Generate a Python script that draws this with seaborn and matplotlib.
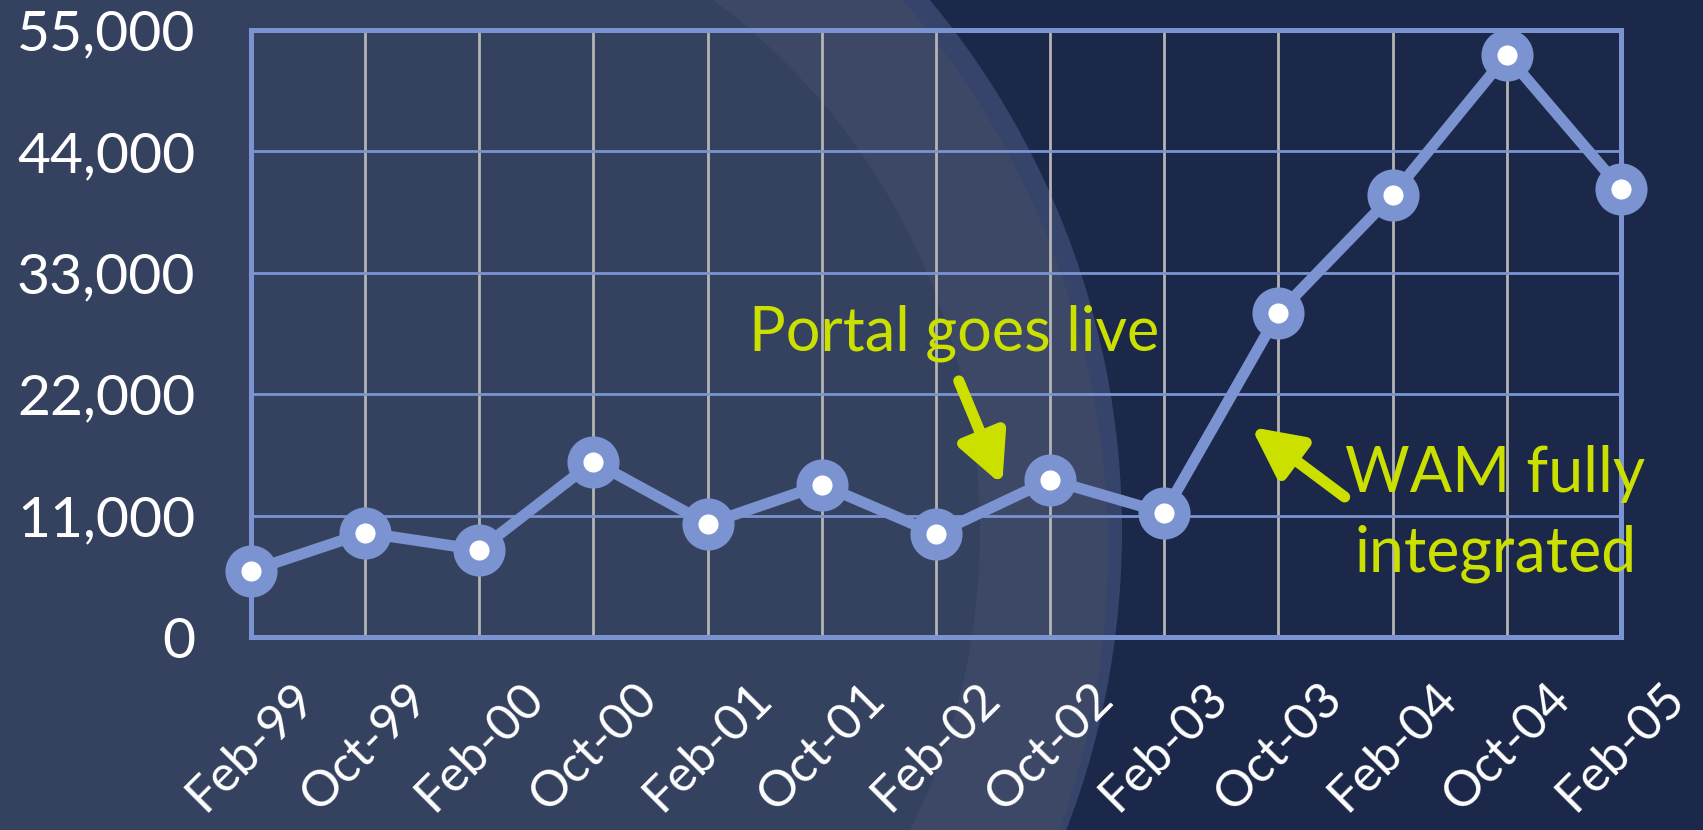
import matplotlib
matplotlib.use('Agg')
import matplotlib.pyplot as plt
from matplotlib.patches import Circle
import pandas as pd
import seaborn as sns

# values
months = ['Feb-99', 'Oct-99', 'Feb-00', 'Oct-00', 'Feb-01', 'Oct-01', 'Feb-02',
          'Oct-02', 'Feb-03', 'Oct-03', 'Feb-04', 'Oct-04', 'Feb-05']
users = [6000, 9450, 7900, 15900, 10250, 13800, 9350,
         14250, 11250, 29350, 40050, 52700, 40600]
y_ticks = [0, 11000, 22000, 33000, 44000, 55000]

blue = '#7b93d0'
yellow = '#cce000'

sns.set_theme(style='white')
plt.rcParams['font.family'] = ['Lato', 'DejaVu Sans']

fig = plt.figure(figsize=(17.03, 8.30), dpi=100)
fig.patch.set_facecolor('#1c2849')

# slide background: dark navy with a large lighter disc and a glow ring
bg = fig.add_axes([0, 0, 1, 1], zorder=0)
bg.set_xlim(0, 1703)
bg.set_ylim(830, 0)
bg.axis('off')
for cx, cy, r, c in [(292, 531, 830, '#36436a'),
                     (269, 550, 839, '#3d4866'),
                     (314, 533, 666, '#35425f')]:
    bg.add_patch(Circle((cx, cy), r, color=c, lw=0))

ax = fig.add_axes([0.1474, 0.2325, 0.8044, 0.7314], zorder=1)
ax.patch.set_alpha(0)

df = pd.DataFrame({'month': months, 'users': users})
sns.lineplot(data=df, x='month', y='users', sort=False, ax=ax,
             color=blue, linewidth=8, marker='o', markersize=26,
             markeredgewidth=11.5, markerfacecolor='white',
             markeredgecolor=blue, clip_on=False, zorder=5)

ax.set_xlim(0, len(months) - 1)
ax.set_ylim(0, 55000)
ax.set_yticks(y_ticks)
ax.set_yticklabels([f'{v:,}' for v in y_ticks])
ax.set_xticks(range(len(months)))
ax.set_xticklabels(months, rotation=45, ha='center')
ax.set_xlabel('')
ax.set_ylabel('')

ax.set_axisbelow(True)
ax.xaxis.grid(True, color='#b4b4b4', linewidth=2)
ax.yaxis.grid(True, color=blue, linewidth=2)
for s in ax.spines.values():
    s.set_color(blue)
    s.set_linewidth(3.6)

ax.tick_params(axis='y', length=0, pad=40, labelsize=41, labelcolor='white')
ax.tick_params(axis='x', length=0, pad=27, labelsize=36, labelcolor='white')

# annotations
ax.text(4.36, 26000, 'Portal goes live', color=yellow, fontsize=44,
        ha='left', va='baseline')
ax.annotate('', xy=(6.58, 13770), xytext=(6.20, 23200),
            arrowprops=dict(arrowstyle='-|>,head_length=0.8,head_width=0.4',
                            mutation_scale=37, color=yellow, lw=8,
                            shrinkA=0, shrinkB=0))

ax.text(10.90, 13140, 'WAM fully', color=yellow, fontsize=45,
        ha='center', va='baseline')
ax.text(10.90, 5900, 'integrated', color=yellow, fontsize=45,
        ha='center', va='baseline')
ax.annotate('', xy=(8.76, 19030), xytext=(9.58, 12690),
            arrowprops=dict(arrowstyle='-|>,head_length=0.8,head_width=0.4',
                            mutation_scale=37, color=yellow, lw=8,
                            shrinkA=0, shrinkB=0))

fig.savefig('out.png', dpi=100, facecolor=fig.get_facecolor())
